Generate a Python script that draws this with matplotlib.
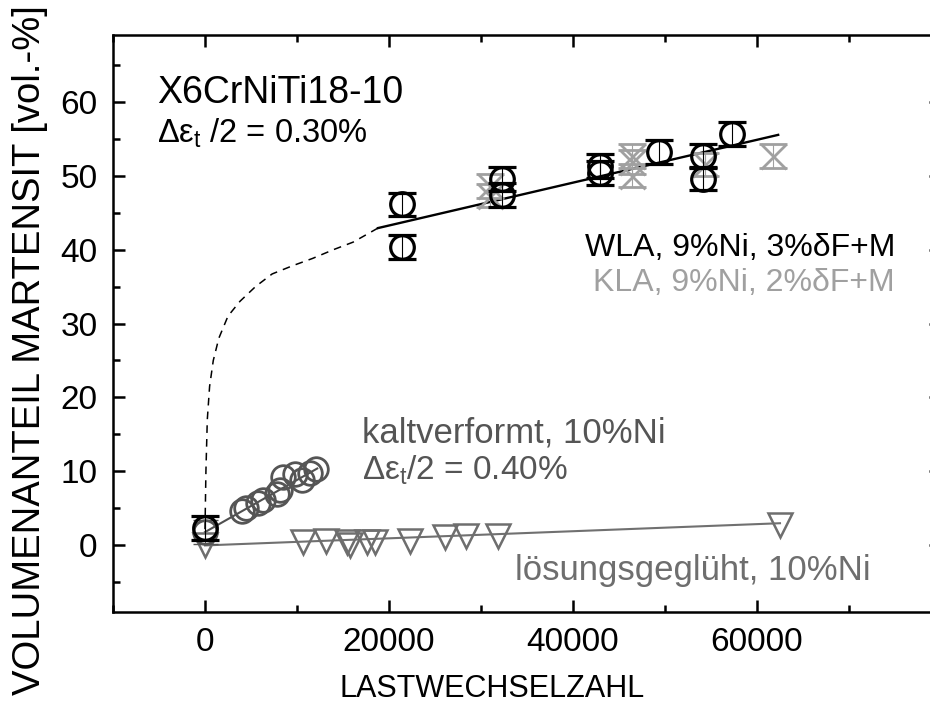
import matplotlib
matplotlib.use("Agg")
import matplotlib.pyplot as plt
from matplotlib.ticker import MultipleLocator

plt.rcParams["font.family"] = ["Liberation Sans", "DejaVu Sans"]
plt.rcParams["mathtext.fontset"] = "custom"
plt.rcParams["mathtext.rm"] = "Liberation Sans"
plt.rcParams["mathtext.it"] = "Liberation Sans"

# ---------------------------------------------------------
# data
# ---------------------------------------------------------
# WLA, 9%Ni, 3%dF+M (black circles)
wla_n = [0, 21400, 21400, 32300, 32300, 42900, 42900, 49400, 54100, 54100, 57300]
wla_m = [2.4, 46.1, 40.3, 49.5, 47.4, 51.3, 50.3, 53.2, 52.6, 49.6, 55.6]

# KLA, 9%Ni, 2%dF+M (grey crosses)
kla_n = [31000, 31000, 46400, 46400, 46400, 54400, 61700]
kla_m = [48.6, 47.3, 52.6, 51.8, 50.0, 51.5, 52.6]

# kaltverformt, 10%Ni (dark grey circles)
kalt_n = [0, 4000, 4500, 5800, 6300, 7800, 8100, 8500, 9800, 10500, 11400, 12100]
kalt_m = [1.8, 4.6, 5.1, 5.8, 6.2, 7.0, 7.5, 9.2, 9.6, 8.9, 9.8, 10.3]

# loesungsgeglueht, 10%Ni (triangles)
loes_n = [0, 10700, 13200, 15400, 15800, 17600, 18500, 22300, 26100, 28400, 31900, 62500]
loes_m = [0.0, 0.4, 0.6, 0.4, 0.1, 0.45, 0.45, 0.6, 1.2, 1.3, 1.3, 2.8]

# trend lines
wla_fit_n = [18800, 62300]
wla_fit_m = [42.9, 55.5]
wla_guide_n = [0, 100, 250, 500, 900, 1500, 2500, 3800, 5500, 7300, 9500, 11700, 14000, 16100, 18800]
wla_guide_m = [2.2, 10.0, 17.0, 21.5, 25.0, 28.0, 31.0, 33.0, 35.0, 36.7, 37.8, 38.8, 40.0, 41.0, 42.9]
kalt_fit_n = [0, 12200]
kalt_fit_m = [1.8, 10.4]
loes_fit_n = [0, 62500]
loes_fit_m = [0.0, 3.0]

err = 1.6

# ---------------------------------------------------------
# plot
# ---------------------------------------------------------
fig = plt.figure(figsize=(9.3, 7.13), dpi=100)
ax = fig.add_axes([113 / 930, 101 / 713, 828 / 930, 577 / 713])

ax.plot(loes_fit_n, loes_fit_m, color="#707070", lw=1.5, zorder=2)
ax.plot(kalt_fit_n, kalt_fit_m, color="#505050", lw=1.5, zorder=2)
ax.plot(wla_fit_n, wla_fit_m, color="black", lw=1.7, zorder=2)
ax.plot(wla_guide_n, wla_guide_m, color="black", lw=1.1, ls=(0, (5, 4)), zorder=2)

ax.plot(loes_n, loes_m, "v", ms=17, mfc="none", mec="#6e6e6e", mew=1.8, zorder=3)

ax.plot(kalt_n, kalt_m, "o", ms=17, mfc="none", mec="#555555", mew=2.0, zorder=3)
ax.errorbar(kalt_n[:1], kalt_m[:1], yerr=err, fmt="none", ecolor="#555555",
            elinewidth=0.8, capsize=9, capthick=1.0, zorder=3)

ax.errorbar(kla_n, kla_m, yerr=err, fmt="x", ms=18, mfc="none", mec="#a0a0a0",
            mew=2.0, ecolor="#a0a0a0", elinewidth=0.8, capsize=10, capthick=1.0, zorder=4)

ax.errorbar(wla_n, wla_m, yerr=err, fmt="o", ms=17, mfc="none", mec="black",
            mew=2.3, ecolor="black", elinewidth=0.8, capsize=10, capthick=1.0, zorder=5)

ax.set_xlim(-10000, 80000)
ax.set_ylim(-9, 69)
ax.set_xticks([0, 20000, 40000, 60000])
ax.xaxis.set_minor_locator(MultipleLocator(10000))
ax.yaxis.set_major_locator(MultipleLocator(10))
ax.yaxis.set_minor_locator(MultipleLocator(5))

for s in ax.spines.values():
    s.set_linewidth(1.8)
ax.tick_params(which="both", direction="in", top=True, right=True, width=1.8)
ax.tick_params(which="major", length=8.5, labelsize=24, pad=11)
ax.tick_params(which="minor", length=5)

ax.set_xlabel("LASTWECHSELZAHL", fontsize=22)
ax.set_ylabel("VOLUMENANTEIL MARTENSIT [vol.-%]", fontsize=27.5)
ax.xaxis.set_label_coords(0.458, -0.108)
ax.yaxis.set_label_coords(-0.078, 0.454)

ax.text(-5200, 59.8, "X6CrNiTi18-10", fontsize=27, va="baseline")
ax.text(-5200, 54.5, r"$\Delta\varepsilon_{t}$ /2 = 0.30%", fontsize=23.5, va="baseline")
ax.text(75000, 39.1, "WLA, 9%Ni, 3%δF+M", fontsize=23, ha="right", va="baseline")
ax.text(75000, 34.4, "KLA, 9%Ni, 2%δF+M", fontsize=23, ha="right", va="baseline",
        color="#a0a0a0")
ax.text(17060, 13.9, "kaltverformt, 10%Ni", fontsize=25, va="baseline", color="#555555")
ax.text(17060, 8.9, r"$\Delta\varepsilon_{t}$/2 = 0.40%", fontsize=24, va="baseline",
        color="#555555")
ax.text(72300, -4.7, "lösungsgeglüht, 10%Ni", fontsize=25, ha="right", va="baseline",
        color="#6e6e6e")

fig.savefig("out.png", dpi=100)
